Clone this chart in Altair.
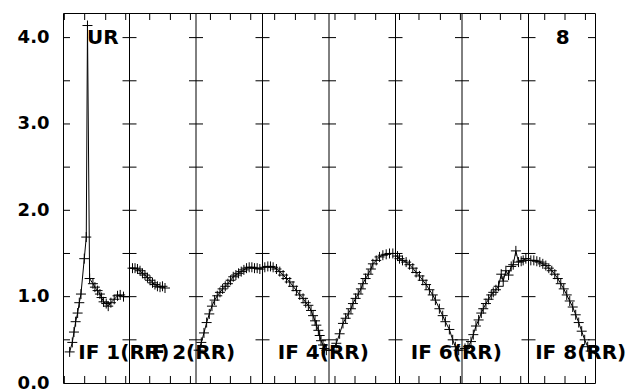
import altair as alt
import pandas as pd

# ---------------- data ----------------
Y_MAX = 4.285
N_PANELS = 8

y_label_values = [0.0, 1.0, 2.0, 3.0, 4.0]
y_minor_ticks = [0.5, 1.0, 1.5, 2.0, 2.5, 3.0, 3.5, 4.0]

# channel tick positions along the x axis (panel units)
x_tick_positions = [0.02, 0.326, 0.642, 0.943,
                    1.304, 1.615, 1.916,
                    2.217, 2.517, 2.823,
                    3.183, 3.495, 3.789,
                    4.09, 4.391, 4.702,
                    5.06, 5.353, 5.675, 5.976,
                    6.277, 6.577, 6.883,
                    7.244, 7.549, 7.856]

# IF 1
p1_x = [0.10, 0.14, 0.165, 0.19, 0.22, 0.245, 0.27, 0.32, 0.35, 0.368, 0.40, 0.45,
        0.48, 0.52, 0.555, 0.58, 0.61, 0.65, 0.68, 0.72, 0.77, 0.82, 0.86, 0.91]
p1_y = [0.36, 0.47, 0.59, 0.71, 0.81, 0.93, 1.03, 1.44, 1.69, 4.14, 1.21, 1.15,
        1.11, 1.07, 1.03, 0.99, 0.94, 0.92, 0.89, 0.93, 0.97, 1.01, 1.02, 1.00]
# IF 2
p2_x = [0.045, 0.083, 0.12, 0.158, 0.195, 0.233, 0.27, 0.308, 0.346, 0.383, 0.42, 0.459, 0.496, 0.534]
p2_y = [1.33, 1.33, 1.32, 1.30, 1.27, 1.25, 1.22, 1.19, 1.16, 1.14, 1.12, 1.11, 1.12, 1.10]
# IF 3
p3_x = [0.04, 0.08, 0.12, 0.16, 0.20, 0.24, 0.28, 0.32, 0.36, 0.40, 0.44, 0.48,
        0.52, 0.56, 0.60, 0.64, 0.68, 0.72, 0.76, 0.80, 0.84, 0.88, 0.92, 0.96]
p3_y = [0.38, 0.47, 0.58, 0.70, 0.80, 0.89, 0.96, 1.01, 1.05, 1.09, 1.12, 1.15,
        1.19, 1.23, 1.25, 1.27, 1.29, 1.31, 1.33, 1.34, 1.34, 1.33, 1.33, 1.32]
# IF 4
p4_x = [0.035, 0.08, 0.12, 0.16, 0.21, 0.26, 0.31, 0.36, 0.41, 0.46, 0.51, 0.56, 0.61,
        0.65, 0.69, 0.73, 0.76, 0.79, 0.81, 0.84, 0.86, 0.88, 0.91, 0.93, 0.96]
p4_y = [1.34, 1.35, 1.35, 1.34, 1.32, 1.29, 1.25, 1.21, 1.17, 1.12, 1.07, 1.02, 0.98,
        0.93, 0.90, 0.84, 0.78, 0.72, 0.67, 0.61, 0.55, 0.49, 0.44, 0.40, 0.38]
# IF 5
p5_x = [0.055, 0.11, 0.16, 0.21, 0.25, 0.29, 0.33, 0.36, 0.40, 0.44, 0.48,
        0.51, 0.55, 0.59, 0.63, 0.66, 0.71, 0.76, 0.81, 0.86, 0.91, 0.96]
p5_y = [0.38, 0.46, 0.57, 0.69, 0.75, 0.80, 0.86, 0.92, 0.98, 1.03, 1.09,
        1.15, 1.21, 1.26, 1.32, 1.38, 1.42, 1.46, 1.48, 1.49, 1.50, 1.50]
# IF 6
p6_x = [0.03, 0.06, 0.105, 0.16, 0.21, 0.26, 0.31, 0.36, 0.41, 0.46,
        0.51, 0.56, 0.60, 0.66, 0.71, 0.75, 0.81, 0.86, 0.90, 0.95]
p6_y = [1.47, 1.44, 1.42, 1.40, 1.37, 1.33, 1.28, 1.24, 1.19, 1.14,
        1.08, 1.02, 0.96, 0.86, 0.78, 0.71, 0.62, 0.50, 0.42, 0.38]
# IF 7
p7_x = [0.045, 0.09, 0.135, 0.17, 0.21, 0.25, 0.29, 0.32, 0.36, 0.40, 0.44, 0.47, 0.51,
        0.55, 0.59, 0.62, 0.66, 0.70, 0.74, 0.77, 0.81, 0.85, 0.89, 0.92, 0.96]
p7_y = [0.40, 0.42, 0.48, 0.56, 0.66, 0.73, 0.81, 0.86, 0.92, 0.97, 1.02, 1.05, 1.08,
        1.12, 1.26, 1.18, 1.30, 1.25, 1.35, 1.37, 1.53, 1.40, 1.41, 1.42, 1.44]
# IF 8
p8_x = [0.035, 0.08, 0.125, 0.17, 0.215, 0.26, 0.305, 0.35, 0.395, 0.44, 0.485,
        0.53, 0.575, 0.62, 0.665, 0.71, 0.755, 0.80, 0.845, 0.89, 0.935]
p8_y = [1.42, 1.42, 1.41, 1.40, 1.38, 1.36, 1.33, 1.30, 1.26, 1.21, 1.15,
        1.09, 1.02, 0.95, 0.88, 0.79, 0.70, 0.60, 0.50, 0.42, 0.37]

panel_x = [p1_x, p2_x, p3_x, p4_x, p5_x, p6_x, p7_x, p8_x]
panel_y = [p1_y, p2_y, p3_y, p4_y, p5_y, p6_y, p7_y, p8_y]

# which ends of each panel's curve run on to the panel border
extend_start = [False, True, True, True, True, True, True, True]
extend_end = [True, False, True, True, True, True, True, True]

if_labels = ["IF 1(RR)", "IF 2(RR)", "IF 4(RR)", "IF 6(RR)", "IF 8(RR)"]
if_label_x = [0.23, 1.22, 3.23, 5.23, 7.10]
corner_texts = ["UR", "8"]

# ---------------- tables ----------------
pts = []
line_rows = []
for i in range(N_PANELS):
    xs_, ys_v = panel_x[i], panel_y[i]
    if extend_start[i]:
        line_rows.append({"x": i + 0.0, "y": ys_v[0], "p": i})
    for fx, v in zip(xs_, ys_v):
        pts.append({"x": i + fx, "y": v, "p": i})
        line_rows.append({"x": i + fx, "y": v, "p": i})
    if extend_end[i]:
        line_rows.append({"x": i + 1.0, "y": ys_v[-1], "p": i})
df_pts = pd.DataFrame(pts)
df_line = pd.DataFrame(line_rows)

TICK_X = 7 / 66.5    # half length of y ticks in panel units
TICK_Y = 7 / 86.33   # length of x ticks in y units

ytick_rows = []
for b in range(N_PANELS + 1):
    for yv in y_minor_ticks:
        x1 = b - TICK_X if b > 0 else b
        x2 = b + TICK_X if b < N_PANELS else b
        ytick_rows.append({"x": x1, "x2": x2, "y": yv})
df_ytick = pd.DataFrame(ytick_rows)

xtick_rows = []
for xv in x_tick_positions:
    xtick_rows.append({"x": xv, "y": 0.0, "y2": TICK_Y})
    xtick_rows.append({"x": xv, "y": Y_MAX - TICK_Y, "y2": Y_MAX})
df_xtick = pd.DataFrame(xtick_rows)

df_div = pd.DataFrame({"x": list(range(1, N_PANELS))})

df_iflab = pd.DataFrame({"x": if_label_x, "y": [0.343] * len(if_labels), "t": if_labels})
df_corner_l = pd.DataFrame({"x": [0.36], "y": [4.0], "t": [corner_texts[0]]})
df_corner_r = pd.DataFrame({"x": [7.514], "y": [4.0], "t": [corner_texts[1]]})

xs = alt.Scale(domain=[0, N_PANELS], nice=False, zero=False)
ysc = alt.Scale(domain=[0, Y_MAX], nice=False, zero=False)

FONT = "DejaVu Sans"
YAXIS = alt.Axis(values=y_label_values, format=".1f", ticks=False, domain=False, grid=False,
                 title=None, labelFont=FONT, labelFontWeight="bold", labelFontSize=18,
                 labelColor="black", labelPadding=14)


def X():
    return alt.X("x:Q", scale=xs, axis=None)


def Y():
    return alt.Y("y:Q", scale=ysc, axis=YAXIS)


dividers = alt.Chart(df_div).mark_rule(color="black", strokeWidth=1).encode(x=X())

yticks = alt.Chart(df_ytick).mark_rule(color="black", strokeWidth=1).encode(
    x=X(), x2="x2:Q", y=Y())

xticks = alt.Chart(df_xtick).mark_rule(color="black", strokeWidth=1).encode(
    x=X(), y=Y(), y2="y2:Q")

line = alt.Chart(df_line).mark_line(color="black", strokeWidth=1).encode(
    x=X(), y=Y(), detail="p:N", order="x:Q")

points = alt.Chart(df_pts).mark_point(shape="M-1,0L1,0M0,-1L0,1", filled=False, size=100,
                                      color="black", strokeWidth=1, opacity=1).encode(
    x=X(), y=Y())

iflab = alt.Chart(df_iflab).mark_text(font=FONT, fontWeight="bold", fontSize=20, align="left",
                                      baseline="middle", color="black").encode(
    x=X(), y=Y(), text="t:N")

corner_left = alt.Chart(df_corner_l).mark_text(font=FONT, fontWeight="bold", fontSize=20,
                                               align="left", baseline="middle",
                                               color="black").encode(
    x=X(), y=Y(), text="t:N")

corner_right = alt.Chart(df_corner_r).mark_text(font=FONT, fontWeight="bold", fontSize=20,
                                                align="center", baseline="middle",
                                                color="black").encode(
    x=X(), y=Y(), text="t:N")

chart = alt.layer(yticks, dividers, xticks, line, points, iflab, corner_left, corner_right).properties(
    width=532, height=370,
    padding={"left": 55, "top": 5, "right": 33, "bottom": 7},
    autosize=alt.AutoSizeParams(type="none"),
    background="white",
).configure_view(stroke="black", strokeWidth=1)

chart.save("out.html", embed_options={"renderer": "svg", "actions": False})
